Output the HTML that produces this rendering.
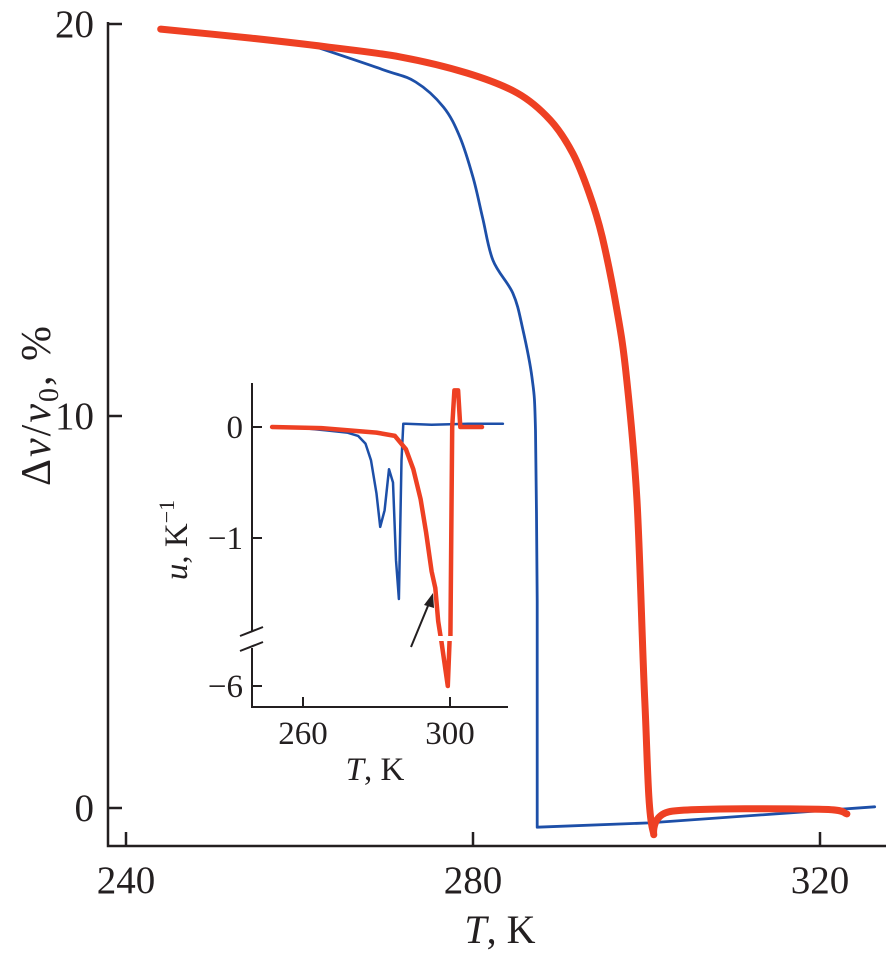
<!DOCTYPE html>
<html><head><meta charset="utf-8"><style>
html,body{margin:0;padding:0;background:#fff;}
svg{display:block;font-family:"Liberation Serif",serif;}
</style></head><body>
<svg id="chart" width="886" height="956" viewBox="0 0 886 956" xmlns="http://www.w3.org/2000/svg">
<g id="main-axes"></g>
<g id="main-series"></g>
<g id="inset"></g>
</svg>
<script>
// Main chart data
const mainXTicks = [240, 280, 320];
const mainYTicks = [0, 10, 20];
const blueT = [261.3, 269.7, 273.4, 276.6, 278.5, 280.0, 281.1, 282.3, 284.6, 285.7, 286.8, 287.2, 287.4, 287.4, 300.3, 326.3];
const blueV = [19.46, 18.83, 18.52, 17.88, 17.11, 16.09, 15.07, 13.97, 13.13, 12.26, 10.98, 9.63, 5.29, -0.49, -0.38, 0.03];
const redT = [244.0, 254.4, 263.0, 271.6, 279.3, 285.1, 288.9, 291.5, 293.4, 294.9, 296.6, 297.7, 298.9, 299.8, 300.7, 303.0, 319.9, 323.1];
const redV = [19.87, 19.64, 19.42, 19.16, 18.75, 18.24, 17.55, 16.7, 15.68, 14.56, 12.69, 10.98, 7.84, 2.73, -0.54, -0.08, -0.03, -0.15];
// Inset data
const insetXTicks = [260, 300];
const insetYTicks = [0, -1, -6];
const insBlueT = [254, 260, 266, 272, 275, 277, 278.5, 280, 281, 282.2, 283.4, 284.5, 285.3, 286.1, 286.8, 287.3, 288, 295, 305, 314.4];
const insBlueU = [0, -0.01, -0.03, -0.05, -0.08, -0.15, -0.3, -0.6, -0.9, -0.75, -0.38, -0.5, -1.2, -1.55, -0.3, 0.03, 0.03, 0.02, 0.03, 0.03];
const insRedT = [251.6, 265, 280, 285, 288, 290, 292, 293.5, 295, 296, 296.8, 297.5, 297.6, 299.4, 299.9, 300.1, 300.6, 301.2, 302.2, 302.8, 308.7];
const insRedU = [0, -0.01, -0.05, -0.08, -0.2, -0.38, -0.65, -0.95, -1.3, -1.45, -1.75, -1.9, -5.6, -6, -5.6, -1.9, 0, 0.33, 0.33, 0, 0];

const NS = "http://www.w3.org/2000/svg";
function mk(parent, tag, attrs, text){
  const e = document.createElementNS(NS, tag);
  for (const k in attrs) e.setAttribute(k, attrs[k]);
  if (text !== undefined) e.textContent = text;
  parent.appendChild(e);
  return e;
}
const mx = t => 126 + (t - 240) * 8.675;
const my = v => 808 - v * 39.2;
const ix = t => 303 + (t - 260) * 3.675;
const iy = u => u >= -1.95 ? 427 - u * 111 : 686 - (u + 6) * 115;

const ax = document.getElementById('main-axes');
let l = mk(ax, 'path', {d: 'M108 22 V846 H886', fill: 'none', stroke: '#231f20', 'stroke-width': 2.5});


mainXTicks.forEach(t => {
  const tk = mk(ax, 'line', {x1: mx(t), x2: mx(t), y1: 846, y2: 832, stroke: '#231f20', 'stroke-width': 2.5});
  
  
  const tx = mk(ax, 'text', {x: mx(t), y: 893, 'font-size': 39, 'text-anchor': 'middle', fill: '#231f20'}, String(t));
  
  
});
mainYTicks.forEach(v => {
  const tk = mk(ax, 'line', {x1: 108, x2: 122, y1: my(v), y2: my(v), stroke: '#231f20', 'stroke-width': 2.5});
  
  
  const tx = mk(ax, 'text', {x: 94, y: my(v) + 13, 'font-size': 39, 'text-anchor': 'end', fill: '#231f20'}, String(v));
  
  
});
const xt = mk(ax, 'text', {x: 500, y: 943, 'font-size': 40, 'text-anchor': 'middle', fill: '#231f20'});
xt.innerHTML = '<tspan font-style="italic">T</tspan>, K';


const yt = mk(ax, 'text', {x: 0, y: 0, 'font-size': 42, 'text-anchor': 'middle', fill: '#231f20', transform: 'translate(50 405) rotate(-90)', 'letter-spacing': '2'});
yt.innerHTML = 'Δ<tspan font-style="italic">v</tspan>/<tspan font-style="italic">v</tspan><tspan font-size="28" dy="8">0</tspan><tspan dy="-8">, %</tspan>';



function line(parent, T, V, fx, fy, color, w, name){
  const d = T.map((t, i) => (i ? 'L' : 'M') + fx(t).toFixed(1) + ' ' + fy(V[i]).toFixed(1)).join(' ');
  const p = mk(parent, 'path', {d: d, fill: 'none', stroke: color, 'stroke-width': w, 'stroke-linejoin': 'round', 'stroke-linecap': 'round'});
  
  
  return p;
}
// smooth up to index `upto`, straight lines afterwards
function smoothD(P, upto){
  let d = 'M' + P[0][0].toFixed(1) + ' ' + P[0][1].toFixed(1);
  const last = Math.min(upto, P.length - 1);
  for (let i = 0; i < last; i++) {
    const p0 = P[Math.max(0, i - 1)], p1 = P[i], p2 = P[i + 1], p3 = P[Math.min(last, i + 2)];
    const c1 = [p1[0] + (p2[0] - p0[0]) / 6, p1[1] + (p2[1] - p0[1]) / 6];
    const c2 = [p2[0] - (p3[0] - p1[0]) / 6, p2[1] - (p3[1] - p1[1]) / 6];
    d += ' C' + c1.map(n => n.toFixed(1)).join(' ') + ' ' + c2.map(n => n.toFixed(1)).join(' ') + ' ' + p2[0].toFixed(1) + ' ' + p2[1].toFixed(1);
  }
  for (let i = last + 1; i < P.length; i++) d += ' L' + P[i][0].toFixed(1) + ' ' + P[i][1].toFixed(1);
  return d;
}
function smooth(parent, T, V, fx, fy, color, w, name, upto){
  const P = T.map((t, i) => [fx(t), fy(V[i])]);
  const p = mk(parent, 'path', {d: smoothD(P, upto === undefined ? P.length - 1 : upto), fill: 'none', stroke: color, 'stroke-width': w, 'stroke-linejoin': 'round', 'stroke-linecap': 'round'});
  
  
  return p;
}
const ms = document.getElementById('main-series');
smooth(ms, blueT, blueV, mx, my, '#1d4fa8', 2.8, 'blue-series', 12);
smooth(ms, redT, redV, mx, my, '#ee4023', 7, 'red-series');

// inset
const ins = document.getElementById('inset');
const ia = mk(ins, 'path', {d: 'M252 383 V632 M252 648 V707 H508', fill: 'none', stroke: '#231f20', 'stroke-width': 2});


const br = mk(ins, 'path', {d: 'M240 636 L263 627 M240 651 L263 642', fill: 'none', stroke: '#231f20', 'stroke-width': 2});


insetXTicks.forEach(t => {
  const tk = mk(ins, 'line', {x1: ix(t), x2: ix(t), y1: 707, y2: 697, stroke: '#231f20', 'stroke-width': 2});
  
  
  const tx = mk(ins, 'text', {x: ix(t), y: 744, 'font-size': 33, 'text-anchor': 'middle', fill: '#231f20'}, String(t));
  
  
});
insetYTicks.forEach(u => {
  const tk = mk(ins, 'line', {x1: 252, x2: 262, y1: iy(u), y2: iy(u), stroke: '#231f20', 'stroke-width': 2});
  
  
  const tx = mk(ins, 'text', {x: 243, y: iy(u) + 11, 'font-size': 33, 'text-anchor': 'end', fill: '#231f20'}, u < 0 ? '\u2212' + (-u) : String(u));
  
  
});
const ixt = mk(ins, 'text', {x: 375, y: 780, 'font-size': 33, 'text-anchor': 'middle', fill: '#231f20'});
ixt.innerHTML = '<tspan font-style="italic">T</tspan>, K';


const iyt = mk(ins, 'text', {x: 0, y: 0, 'font-size': 33, 'text-anchor': 'middle', fill: '#231f20', transform: 'translate(187 540) rotate(-90)'});
iyt.innerHTML = '<tspan font-style="italic">u</tspan>, K<tspan font-size="22" dy="-13">\u22121</tspan>';


line(ins, insBlueT, insBlueU, ix, iy, '#1d4fa8', 2.5, 'inset-blue-series');
line(ins, insRedT, insRedU, ix, iy, '#ee4023', 4.5, 'inset-red-series');
const gap = mk(ins, 'rect', {x: 420, y: 636, width: 40, height: 5, fill: '#fff'});


const arr = mk(ins, 'path', {d: 'M411 647 L430 601', fill: 'none', stroke: '#231f20', 'stroke-width': 2});


const ah = mk(ins, 'path', {d: 'M433 593 L424 605 L434 608 Z', fill: '#231f20'});


</script>
</body></html>
